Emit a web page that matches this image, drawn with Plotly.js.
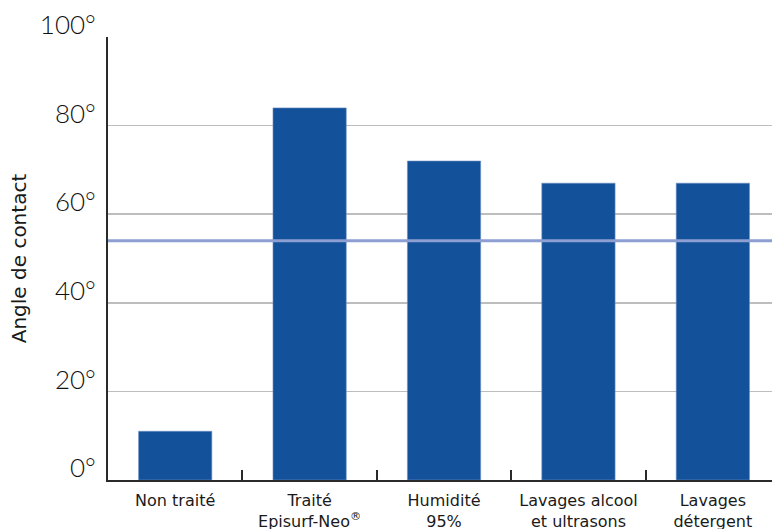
<!DOCTYPE html>
<html>
<head>
<meta charset="utf-8">
<script src="https://cdn.plot.ly/plotly-3.0.1.min.js"></script>
<style>html,body{margin:0;padding:0;background:#fff;}#chart{width:772px;height:529px;}</style>
</head>
<body>
<div id="chart"></div>
<script>
const categories = ["Non traité", "Traité<br>Episurf-Neo<sup>®</sup>", "Humidité<br>95%", "Lavages alcool<br>et ultrasons", "Lavages<br>détergent"];
const angles = [11, 84, 72, 67, 67];
const referenceAngle = 54;
const yTickValues = [0, 20, 40, 60, 80, 100];
const yTickLabels = ["0°", "20°", "40°", "60°", "80°", "100°"];
const yAxisTitle = "Angle de contact";

const trace = {
  type: "bar",
  x: categories,
  y: angles,
  width: 0.545,
  marker: {color: "#13529a", line: {color: "#6d8fc4", width: 0.6}},
  hoverinfo: "skip"
};

const layout = {
  width: 772,
  height: 529,
  margin: {l: 108, r: 0, t: 37, b: 49, pad: 0},
  paper_bgcolor: "#ffffff",
  plot_bgcolor: "#ffffff",
  showlegend: false,
  xaxis: {
    type: "category",
    range: [-0.5, 4.44],
    showline: true,
    linecolor: "#2a2a2a",
    linewidth: 2,
    ticks: "inside",
    tickson: "boundaries",
    ticklen: 10,
    tickwidth: 2,
    tickcolor: "#2a2a2a",
    showgrid: false,
    zeroline: false,
    tickfont: {family: "DejaVu Sans, Verdana, sans-serif", size: 16, color: "#1a1a1a"},
    ticklabelstandoff: 5
  },
  yaxis: {
    range: [0, 100],
    tickvals: yTickValues,
    ticktext: yTickLabels,
    showline: true,
    linecolor: "#2a2a2a",
    linewidth: 2,
    ticks: "",
    showgrid: true,
    gridcolor: "#bdbdbd",
    gridwidth: 1.5,
    zeroline: false,
    tickfont: {family: "Lato, Open Sans, sans-serif", size: 26, color: "#111111", weight: 300},
    ticklabelshift: -12,
    ticklabelstandoff: 5,
    title: {text: yAxisTitle, font: {family: "DejaVu Sans, Verdana, sans-serif", size: 20, color: "#1a1a1a"}, standoff: 8}
  },
  shapes: [{
    type: "line",
    xref: "paper", x0: 0, x1: 1,
    yref: "y", y0: referenceAngle, y1: referenceAngle,
    line: {color: "#8d9ed2", width: 3},
    layer: "above"
  }]
};

Plotly.newPlot("chart", [trace], layout, {displayModeBar: false, staticPlot: true});
</script>
</body>
</html>
